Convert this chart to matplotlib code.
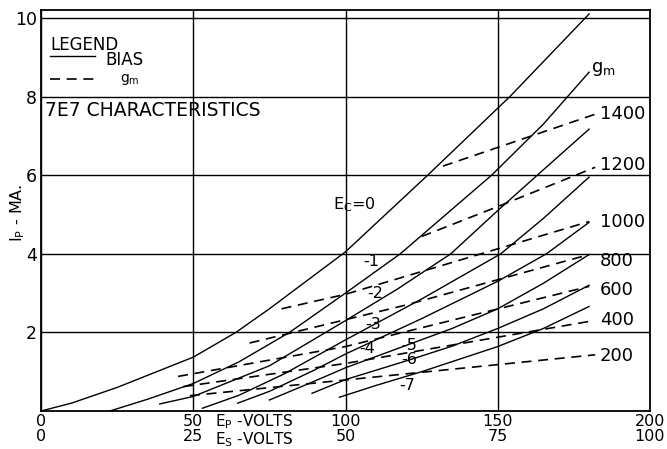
import matplotlib
matplotlib.use("Agg")
import matplotlib.pyplot as plt

# plate current curves (Ep volts, Ip mA) for each grid bias
bias_labels = ["0", "-1", "-2", "-3", "-4", "-5", "-6", "-7"]
bias_x = [
    [0, 10, 25, 50, 64, 75, 100, 127, 154, 180],
    [22.6, 35, 50, 65, 81.6, 100, 118, 133, 148, 165, 180],
    [39, 50, 75, 100, 117, 134.6, 150, 163, 180],
    [53, 65, 80, 100, 125, 151, 165, 180],
    [64.6, 75, 90, 100, 125, 150, 166, 180],
    [75, 88, 100, 121, 135, 150, 165, 180],
    [89, 100, 121, 135, 150, 165, 180],
    [98, 110, 125, 150, 165, 180],
]
bias_y = [
    [0, 0.2, 0.6, 1.37, 2.0, 2.6, 4.05, 6.0, 8.0, 10.1],
    [0, 0.3, 0.7, 1.25, 2.0, 3.0, 4.0, 5.0, 6.0, 7.3, 8.62],
    [0.18, 0.37, 1.15, 2.3, 3.1, 4.0, 5.1, 6.0, 7.17],
    [0.07, 0.4, 0.95, 1.81, 2.85, 4.0, 4.9, 5.95],
    [0.2, 0.5, 1.05, 1.45, 2.35, 3.3, 4.0, 4.8],
    [0.28, 0.7, 1.1, 1.7, 2.1, 2.6, 3.25, 3.98],
    [0.45, 0.8, 1.3, 1.65, 2.1, 2.6, 3.2],
    [0.35, 0.65, 1.0, 1.64, 2.1, 2.66],
]
# where the bias numbers are written
bias_lab_x = [103, 108.5, 109.8, 109.2, 107.2, 121, 121, 120.3]
bias_lab_y = [5.25, 3.8, 3.0, 2.19, 1.58, 1.66, 1.3, 0.64]

# transconductance lines (micromhos)
gm_levels = [1400, 1200, 1000, 800, 600, 400, 200]
gm_x = [
    [132, 182],
    [125, 150, 182],
    [79, 100, 180],
    [68.5, 120, 180],
    [45, 100, 180],
    [46.7, 100, 181.6],
    [48.9, 100, 182],
]
gm_y = [
    [6.23, 7.55],
    [4.44, 5.2, 6.2],
    [2.6, 2.97, 4.82],
    [1.73, 2.7, 3.98],
    [0.88, 1.64, 3.17],
    [0.62, 1.21, 2.3],
    [0.39, 0.79, 1.43],
]
gm_lab_y = [7.55, 6.25, 4.82, 3.81, 3.09, 2.32, 1.39]

ep_ticks = [0, 50, 100, 150, 200]
es_ticks = [0, 25, 50, 75, 100]
ip_ticks = [2, 4, 6, 8, 10]

fig = plt.figure(figsize=(6.67, 4.49), dpi=100)
ax = fig.add_axes([0.0615, 0.0846, 0.913, 0.893])

for xs, ys in zip(bias_x, bias_y):
    ax.plot(xs, ys, color="black", lw=1.0)
for xs, ys in zip(gm_x, gm_y):
    ax.plot(xs, ys, color="black", lw=1.2, ls=(0, (6, 4)))

for lab, lx, ly in zip(bias_labels, bias_lab_x, bias_lab_y):
    if lab == "0":
        lab = r"E$_\mathregular{C}$=0"
    ax.text(lx, ly, lab, fontsize=11.5, ha="center", va="center")

for g, gy in zip(gm_levels, gm_lab_y):
    ax.text(183.5, gy, str(g), fontsize=13, ha="left", va="center")
ax.text(180.5, 8.7, r"g$_\mathregular{m}$", fontsize=13, ha="left", va="center")

# legend drawn by hand like the original
ax.text(3, 9.3, "LEGEND", fontsize=12, ha="left", va="center")
ax.plot([3, 17.7], [9.02, 9.02], color="black", lw=1.0)
ax.text(21, 8.92, "BIAS", fontsize=12, ha="left", va="center")
ax.plot([3, 19], [8.44, 8.44], color="black", lw=1.2, ls=(0, (6, 4)))
ax.text(26, 8.44, r"g$_\mathregular{m}$", fontsize=10, ha="left", va="center")
ax.text(1.3, 7.65, "7E7 CHARACTERISTICS", fontsize=13.5, ha="left", va="center")

ax.set_xlim(0, 200)
ax.set_ylim(0, 10.2)
ax.set_xticks(ep_ticks)
ax.set_xticklabels([f"{a}\n{b}" for a, b in zip(ep_ticks, es_ticks)],
                   fontsize=11.5, linespacing=1.0)
ax.set_yticks(ip_ticks)
ax.set_yticklabels([str(v) for v in ip_ticks], fontsize=12.5)
ax.tick_params(axis="x", length=0, pad=2)
ax.tick_params(axis="y", length=0, pad=3)
ax.grid(True, color="black", lw=1.0)
for s in ax.spines.values():
    s.set_linewidth(1.3)

ax.text(57, -0.28, r"E$_\mathregular{P}$ -VOLTS", fontsize=11, ha="left", va="center")
ax.text(57, -0.74, r"E$_\mathregular{S}$ -VOLTS", fontsize=11, ha="left", va="center")
ax.text(-7.8, 5.05, r"I$_\mathregular{P}$ - MA.", fontsize=11.5, rotation=90,
        ha="center", va="center")

fig.savefig("out.png", dpi=100)
